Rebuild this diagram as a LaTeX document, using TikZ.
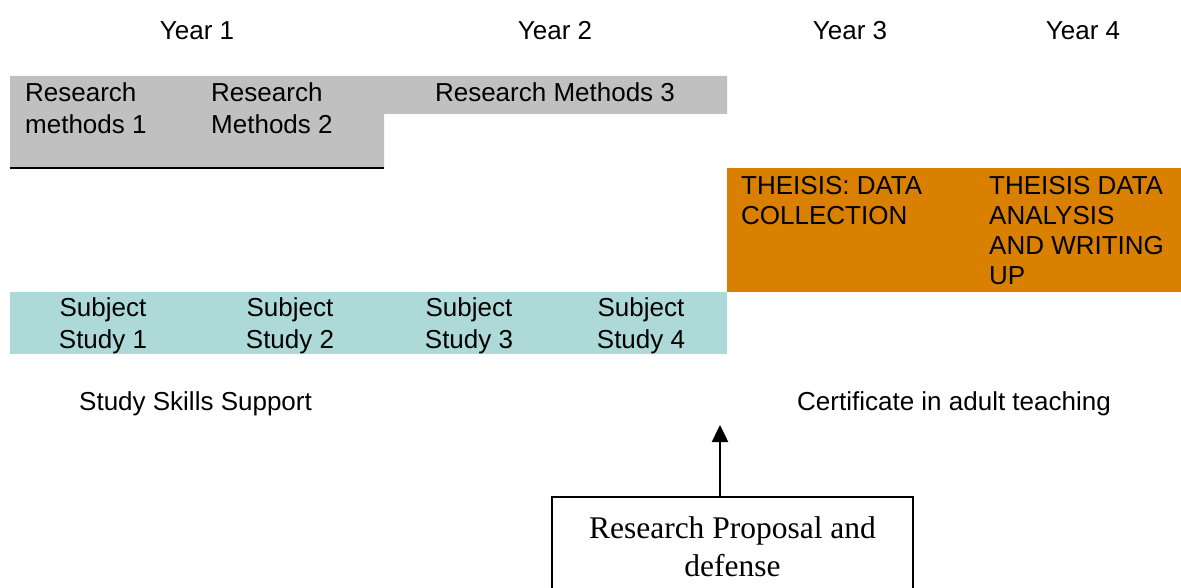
\documentclass[tikz,border=0pt]{standalone}
\usepackage{fontspec}
\setmainfont{Liberation Sans}
\newfontfamily\timesfont{Liberation Serif}
\usetikzlibrary{arrows.meta}
\definecolor{rmgray}{RGB}{192,192,192}
\definecolor{thesisorange}{RGB}{217,128,0}
\definecolor{subjectteal}{RGB}{173,218,216}
\begin{document}
\begin{tikzpicture}[x=1pt,y=-1pt,
		txt/.style={inner sep=0pt,font=\fontsize{26}{32}\selectfont},
		block/.style={txt,align=left,anchor=north west},
		thesis/.style={block,font=\fontsize{26}{30}\selectfont},
		subject/.style={txt,align=center,anchor=north}]
	\useasboundingbox (0,0) rectangle (1181,588);
	\clip (0,0) rectangle (1181,588);
	% years
	\foreach \x/\n in {197/1,555/2,850/3,1083/4}
		\node [txt,anchor=base] (year\n) at (\x,40) {Year \n};
	% research methods
	\fill [rmgray] (10,76) -- (727,76) -- (727,114) -- (384,114) -- (384,168) -- (10,168) -- cycle;
	\draw [line width=2.5pt] (10,168) -- (384,168);
	\node [block] (rm1) at (25,82) {Research\\methods 1};
	\node [block] (rm2) at (211,82) {Research\\Methods 2};
	\node [txt,anchor=north] (rm3) at (555,82) {Research Methods 3};
	% thesis
	\fill [thesisorange] (727,168) rectangle (1181,292);
	\node [thesis] (collect) at (741,176) {THEISIS: DATA\\COLLECTION};
	\node [thesis] (analysis) at (989,176) {THEISIS DATA\\ANALYSIS\\AND WRITING\\UP};
	% subject studies
	\fill [subjectteal] (10,292) rectangle (727,354);
	\foreach \x/\n in {103/1,290/2,469/3,641/4}
		\node [subject] (subj\n) at (\x,297) {Subject\\Study \n};
	\node [txt,anchor=base west] (skills) at (79,410) {Study Skills Support};
	\node [txt,anchor=base west] (cert) at (797,410) {Certificate in adult teaching};
	% proposal
	\node [draw,line width=2pt,minimum width=361pt,minimum height=100pt,anchor=north,
		align=center,font=\timesfont\fontsize{31.5}{38}\selectfont] (proposal) at (732.5,496)
		{Research Proposal and\\defense};
	\coordinate (tip) at (720,425);
	\draw [-{Triangle[length=17pt,width=16pt]},line width=2.5pt] (proposal.north -| tip) -- (tip);
\end{tikzpicture}
\end{document}
